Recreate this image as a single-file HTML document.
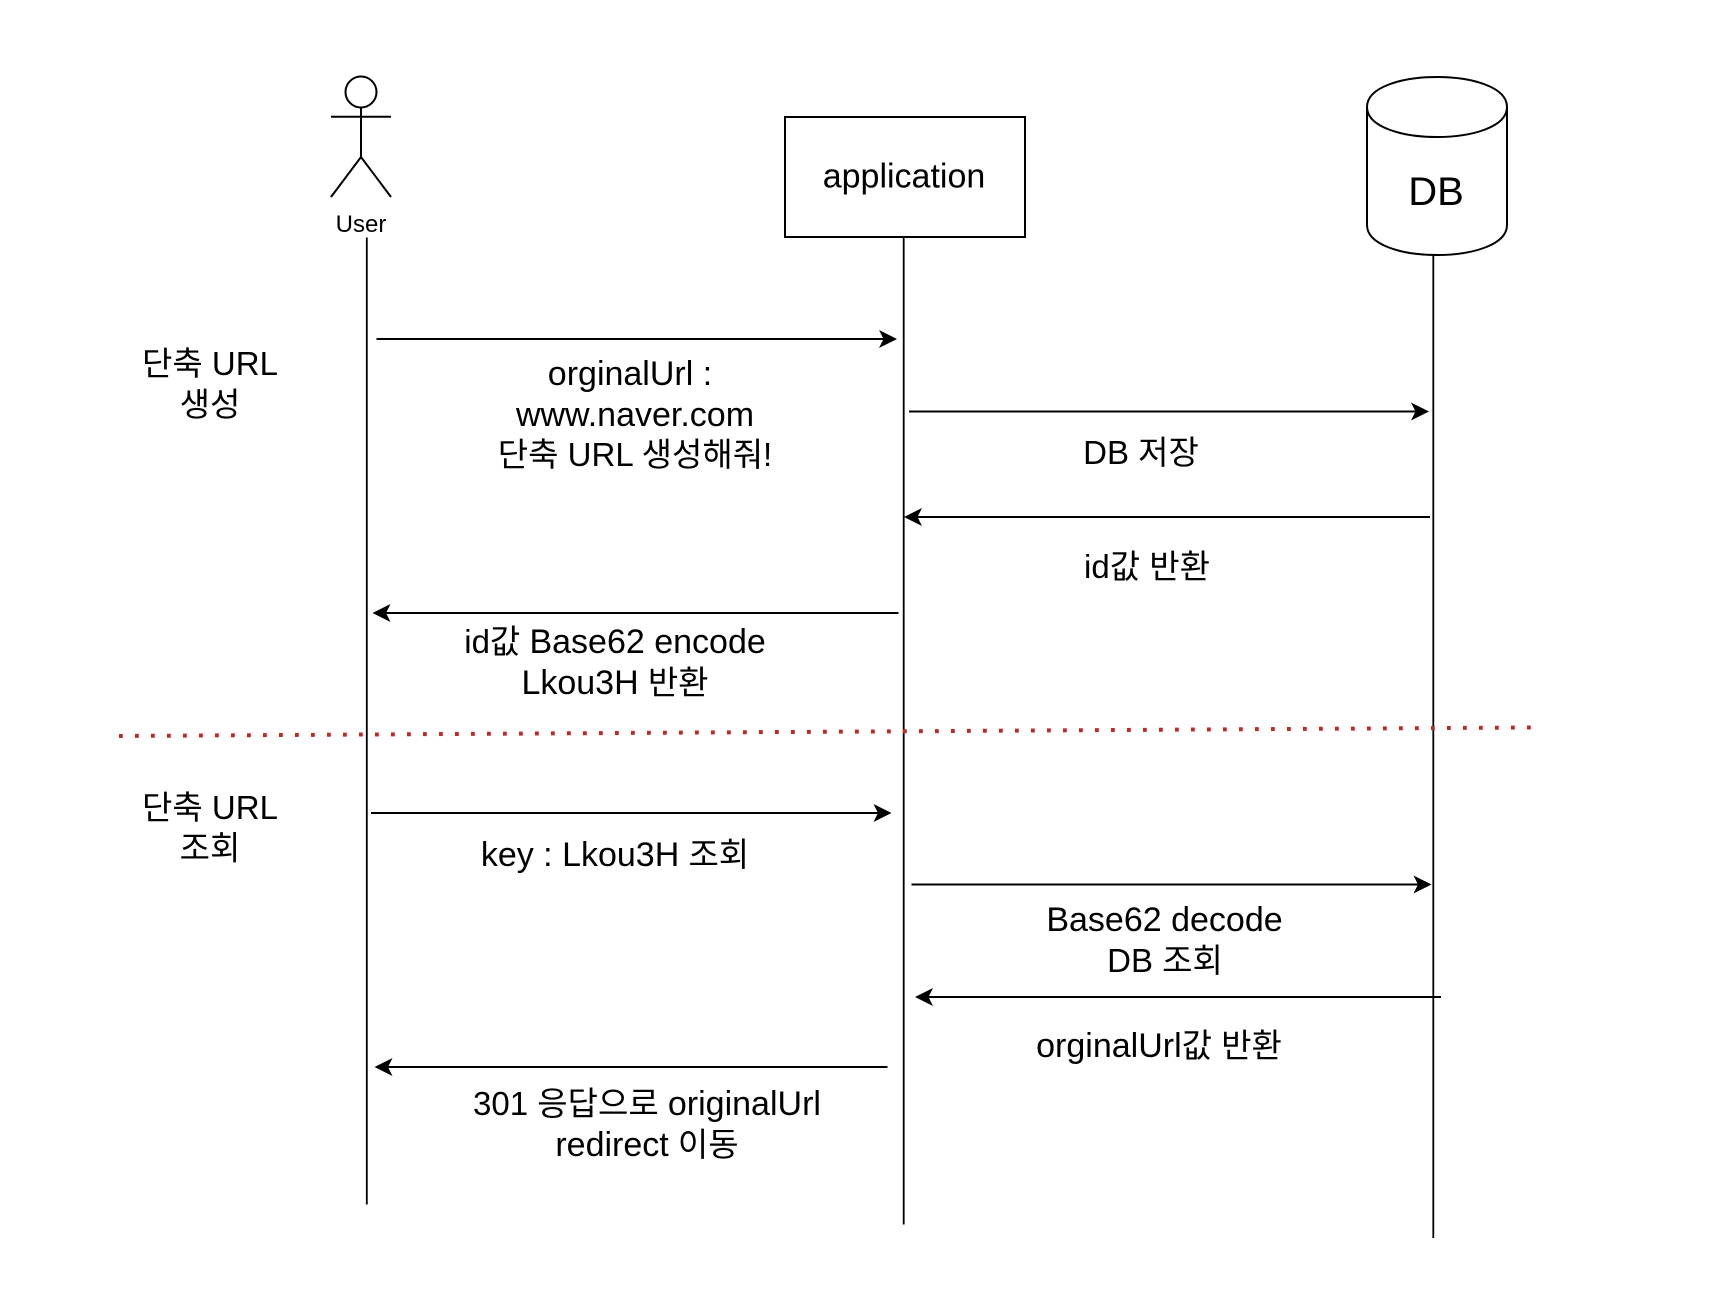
<!DOCTYPE html>
<html>
<head>
<meta charset="utf-8">
<style>
html,body{margin:0;padding:0;background:#fff}
svg{display:block}
text{font-family:"Liberation Sans","Noto Sans CJK KR",sans-serif;fill:#000;text-anchor:middle;font-size:33px}
.b{font-size:34px}
.l{stroke:#000;stroke-width:2;fill:none}
.t{stroke:#000;stroke-width:1.8;fill:none}
</style>
</head>
<body>
<svg width="1716" height="1308" viewBox="0 0 1716 1308" xmlns="http://www.w3.org/2000/svg">
<rect width="1716" height="1308" fill="#fff"/>

<!-- actor -->
<ellipse cx="361" cy="92" rx="15.5" ry="15.5" class="l"/>
<path d="M361 107.500V157M331 116.700H391M331 197L361 157L391 197" class="l"/>
<text x="361" y="232" style="font-size:24px">User</text>

<!-- application -->
<rect x="785" y="117" width="240" height="120" class="l" stroke-width="2.2"/>
<text x="904" y="187.500" class="b">application</text>

<!-- DB -->
<path d="M1367 107C1367 67 1507 67 1507 107V225C1507 265 1367 265 1367 225ZM1367 107C1367 147 1507 147 1507 107" class="l"/>
<text x="1436" y="205" style="font-size:40px">DB</text>

<!-- lifelines -->
<path d="M366.800 237.500V1204.500" class="t"/>
<path d="M903.700 237V1224.500" class="t"/>
<path d="M1433.300 255V1238" class="t" stroke="#222"/>

<!-- separator -->
<line x1="119" y1="736" x2="1533" y2="727.500" stroke="#b92c28" stroke-width="4" stroke-dasharray="3.800 12.200"/>

<!-- arrows -->
<path d="M376.500 339H890" class="l"/><polygon points="897,339 879,330 883.500,339 879,348"/>
<path d="M909 411.500H1422" class="l"/><polygon points="1429,411.500 1411,402.500 1415.500,411.500 1411,420.500"/>
<path d="M1430 517H911" class="l"/><polygon points="904,517 922,508 917.500,517 922,526"/>
<path d="M898.500 613H379" class="l"/><polygon points="372.500,613 390.500,604 386,613 390.500,622"/>
<path d="M371 813H885" class="l"/><polygon points="891.500,813 873.500,804 878,813 873.500,822"/>
<path d="M911.500 884.500H1425" class="l"/><polygon points="1431.500,884.500 1413.500,875.500 1418,884.500 1413.500,893.500"/>
<path d="M1441 997H922" class="l"/><polygon points="915,997 933,988 928.500,997 933,1006"/>
<path d="M887.500 1067H381" class="l"/><polygon points="374.500,1067 392.500,1058 388,1067 392.500,1076"/>

<!-- labels -->
<text x="210" y="375">단축 URL</text>
<text x="210" y="416">생성</text>
<text x="630" y="385" class="b">orginalUrl :</text>
<text x="635" y="426" class="b">www.naver.com</text>
<text x="635" y="466">단축 URL 생성해줘!</text>
<text x="1141" y="464">DB 저장</text>
<text x="1147" y="578">id값 반환</text>
<text x="615" y="653">id값 <tspan class="b">Base62 encode</tspan></text>
<text x="615" y="694"><tspan class="b">Lkou3H</tspan> 반환</text>
<text x="210" y="819">단축 URL</text>
<text x="210" y="859.500">조회</text>
<text x="615" y="866"><tspan class="b">key : Lkou3H</tspan> 조회</text>
<text x="1164.500" y="931" class="b">Base62 decode</text>
<text x="1165" y="972">DB 조회</text>
<text x="1159" y="1057"><tspan class="b">orginalUrl</tspan>값 반환</text>
<text x="647" y="1115">301 응답으로 <tspan class="b">originalUrl</tspan></text>
<text x="647" y="1156"><tspan class="b">redirect</tspan> 이동</text>
</svg>
</body>
</html>
